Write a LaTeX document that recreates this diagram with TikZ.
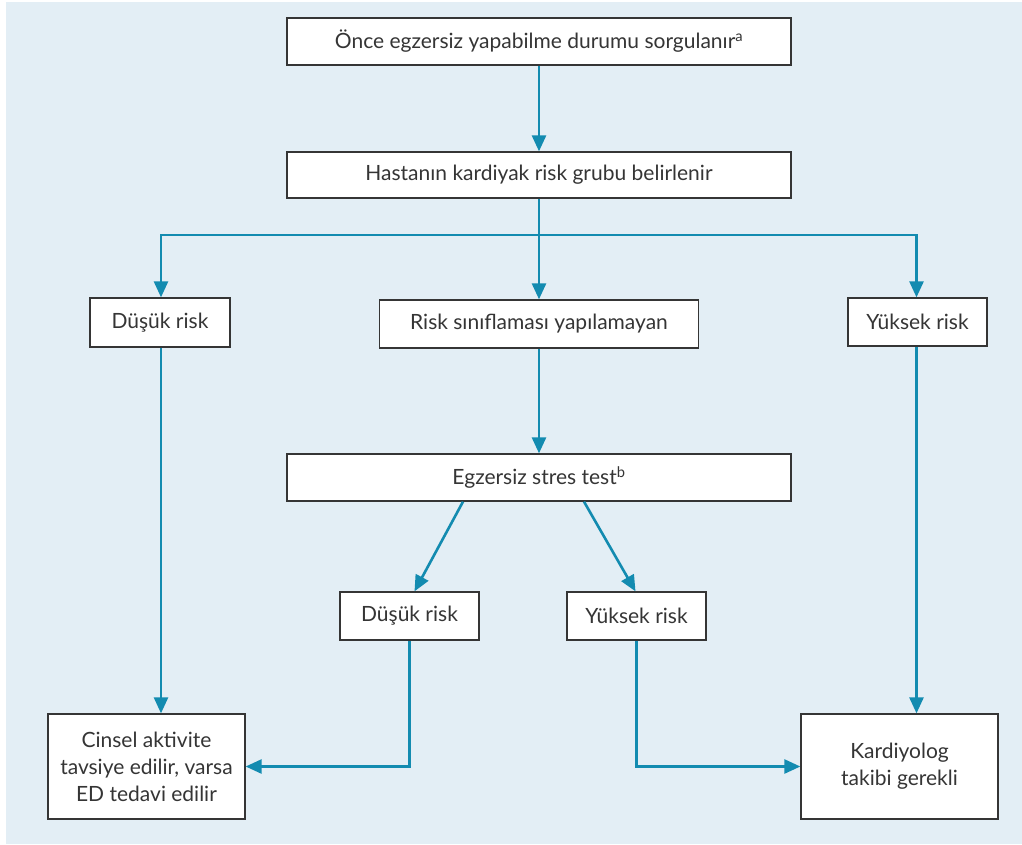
\documentclass[tikz,border=0pt]{standalone}
\usepackage{fontspec}
\setmainfont{Lato}
\usetikzlibrary{arrows.meta}
\usetikzlibrary{positioning}
\definecolor{bg-blue}{HTML}{E3EEF5}
\definecolor{flow-teal}{HTML}{138BB0}
\definecolor{box-gray}{HTML}{353535}
\tikzset{
  stepbox/.style={draw=box-gray, line width=1.3pt, fill=white, text=box-gray,
    align=center, inner sep=0pt, font=\fontsize{21}{27}\selectfont},
  flow/.style={draw=flow-teal, line width=2.6pt,
    -{Triangle[width=14pt, length=16pt]}},
}
\begin{document}
\begin{tikzpicture}[x=1pt, y=-1pt]
  \useasboundingbox (0,0) rectangle (1022,844);
  \fill[bg-blue] (6,2) rectangle (1022,844);

  % boxes, top to bottom
  \node[stepbox, minimum width=504pt, minimum height=47pt] (ask) at (539,41.5)
    {Önce egzersiz yapabilme durumu sorgulanır\textsuperscript{a}};
  \node[stepbox, minimum width=504pt, minimum height=46pt] (group) at (539,175)
    {Hastanın kardiyak risk grubu belirlenir};
  \node[stepbox, minimum width=140pt, minimum height=49pt] (low) at (160,322.5)
    {Düşük risk};
  \node[stepbox, minimum width=319pt, minimum height=48pt] (unk) at (539,324)
    {Risk sınıflaması yapılamayan};
  \node[stepbox, minimum width=139pt, minimum height=48pt] (high) at (917.5,322)
    {Yüksek risk};
  \node[stepbox, minimum width=504pt, minimum height=47pt] (stress) at (539,477.5)
    {Egzersiz stres test\textsuperscript{b}};
  \node[stepbox, minimum width=139pt, minimum height=48pt] (low2) at (409.5,616)
    {Düşük risk};
  \node[stepbox, minimum width=139pt, minimum height=48pt] (high2) at (636.5,616)
    {Yüksek risk};
  \node[stepbox, minimum width=197pt, minimum height=105pt] (advise) at (146.5,766.5)
    {Cinsel aktivite\\tavsiye edilir, varsa\\ED tedavi edilir};
  \node[stepbox, minimum width=197pt, minimum height=105pt] (cardio) at (899.5,766.5)
    {Kardiyolog\\takibi gerekli};

  % connectors
  \coordinate (fork) at (539,235);
  \draw[flow] (ask) -- (group);
  \draw[flow] (group.south) -- (group.south |- unk.north);
  \draw[flow] (fork) -| ([xshift=1pt]low.north);
  \draw[flow] (fork) -| ([xshift=-1pt]high.north);
  \draw[flow] ([xshift=1pt]low.south) -- ([xshift=1pt]low.south |- advise.north);
  \draw[flow] ([xshift=-1pt]high.south) -- ([xshift=-1pt]high.south |- cardio.north);
  \draw[flow] (unk.south) -- (unk.south |- stress.north);
  \draw[flow] ([xshift=-76pt]stress.south) -- ([xshift=5pt]low2.north);
  \draw[flow] ([xshift=45pt]stress.south) -- ([xshift=-1pt]high2.north);
  \draw[flow] (low2.south) |- (advise.east);
  \draw[flow] (high2.south) |- (cardio.west);
\end{tikzpicture}
\end{document}
